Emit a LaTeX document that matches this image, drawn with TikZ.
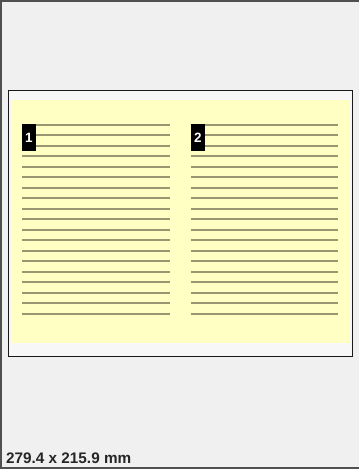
\documentclass[tikz,border=0pt]{standalone}
\usepackage{fontspec}
\setmainfont{Liberation Sans}
\definecolor{bgc}{HTML}{F0F0F0}
\definecolor{pagec}{HTML}{F7F7F7}
\definecolor{yel}{HTML}{FFFFC4}
\definecolor{rulec}{HTML}{9A9672}
\definecolor{framec}{HTML}{505050}
\tikzset{
  ruleline/.style={draw=rulec, line width=1.6pt},
  numbox/.style={fill=black, text=white, font=\bfseries\fontsize{13.5}{14}\selectfont, inner sep=0pt, minimum width=13.5pt, minimum height=26.5pt, anchor=north west},
}
\begin{document}
\begin{tikzpicture}[x=1pt,y=-1pt]
\useasboundingbox (0,0) rectangle (359,469);
\fill[bgc] (0,0) rectangle (359,469);
\draw[framec, line width=2pt] (359,1) -- (1,1) -- (1,468) -- (359,468);
% page
\draw[black!90, line width=1.8pt, fill=pagec] (8.5,90.5) rectangle (352.5,356.5);
\fill[yel] (12,100) rectangle (349,343);
% rule lines
\foreach \i in {0,...,18} {
  \draw[ruleline] (22,124.7+10.5*\i) -- (170,124.7+10.5*\i);
  \draw[ruleline] (191,124.7+10.5*\i) -- (338,124.7+10.5*\i);
}
\node[numbox] (n1) at (22,124) {1};
\node[numbox] (n2) at (191,124) {2};
\node[anchor=base west, inner sep=0pt, font=\bfseries\fontsize{15.3}{17}\selectfont, text=black!85] (size) at (6,463) {279.4 x 215.9 mm};
\end{tikzpicture}
\end{document}
